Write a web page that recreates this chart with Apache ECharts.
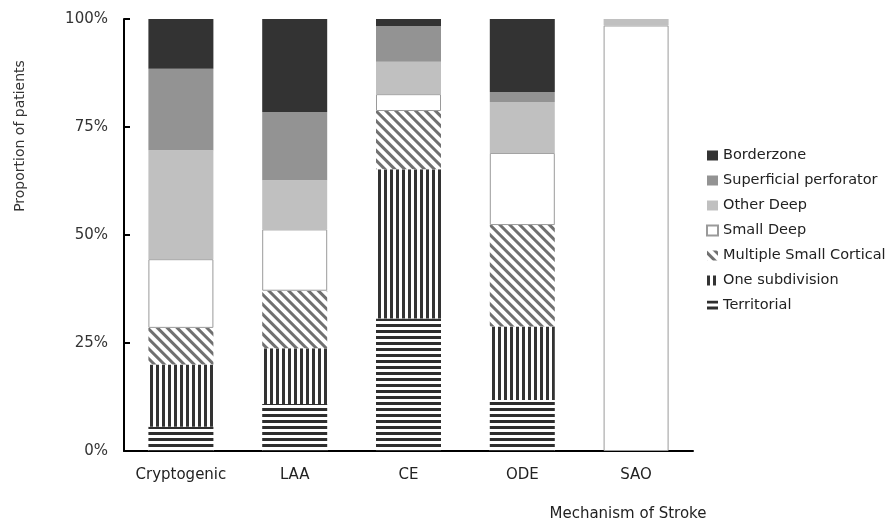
<!DOCTYPE html>
<html>
<head>
<meta charset="utf-8">
<script src="https://cdn.jsdelivr.net/npm/echarts@6/dist/echarts.min.js"></script>
<style>html,body{margin:0;padding:0;background:#fff;}#c{width:890px;height:528px;}</style>
</head>
<body>
<div id="c"></div>
<script>
var categories = ['Cryptogenic', 'LAA', 'CE', 'ODE', 'SAO'];
var territorial = [5.6, 10.9, 30.7, 11.8, 0];
var oneSubdivision = [14.4, 12.9, 34.5, 17.0, 0];
var multipleSmallCortical = [8.5, 13.3, 13.5, 23.5, 0];
var smallDeep = [15.9, 14.2, 3.9, 16.7, 98.5];
var otherDeep = [25.2, 11.4, 7.5, 11.8, 1.5];
var superficialPerforator = [18.9, 15.8, 8.3, 2.3, 0];
var borderzone = [11.5, 21.5, 1.6, 16.9, 0];
var yTicks = [0, 25, 50, 75, 100];

var FONT = 'DejaVu Sans';
var chart = echarts.init(document.getElementById('c'));

function bar(name, data, itemStyle) {
  return {
    name: name, type: 'bar', stack: 'total', data: data,
    barWidth: 65, itemStyle: itemStyle, emphasis: {disabled: true}
  };
}

var series = [
  bar('Territorial', territorial, {
    color: '#ffffff',
    decal: {symbol: 'rect', symbolSize: 1, color: '#2e2e2e', dashArrayX: [1, 0], dashArrayY: [2.5, 2.3]}
  }),
  bar('One subdivision', oneSubdivision, {
    color: '#ffffff',
    decal: {symbol: 'rect', symbolSize: 1, color: '#333333', dashArrayX: [2.2, 2.4], dashArrayY: [1, 0]}
  }),
  bar('Multiple Small Cortical', multipleSmallCortical, {
    color: '#ffffff',
    decal: {symbol: 'rect', symbolSize: 1, color: '#707070', dashArrayX: [1, 0], dashArrayY: [2.4, 3.2], rotation: Math.PI / 4}
  }),
  bar('Small Deep', smallDeep, {color: '#ffffff', borderColor: '#9a9a9a', borderWidth: 1}),
  bar('Other Deep', otherDeep, {color: '#c0c0c0'}),
  bar('Superficial perforator', superficialPerforator, {color: '#939393'}),
  bar('Borderzone', borderzone, {color: '#333333'})
];

chart.setOption({
  animation: false,
  backgroundColor: '#ffffff',
  aria: {enabled: false},
  grid: {left: 124, top: 19, width: 569, height: 432, containLabel: false},
  legend: {
    orient: 'vertical', left: 706, top: 148, padding: 0,
    icon: 'rect',
    itemWidth: 11, itemHeight: 10, itemGap: 10,
    selectedMode: false,
    data: ['Borderzone', 'Superficial perforator', 'Other Deep', 'Small Deep', 'Multiple Small Cortical', 'One subdivision', 'Territorial'],
    textStyle: {fontFamily: FONT, fontSize: 14.5, color: '#222', lineHeight: 14}
  },
  xAxis: {
    type: 'category', data: categories,
    axisLine: {lineStyle: {color: '#000', width: 2}},
    axisTick: {show: false},
    axisLabel: {fontFamily: FONT, fontSize: 15, color: '#222', margin: 17, interval: 0}
  },
  yAxis: {
    type: 'value', min: 0, max: 100, interval: 25,
    axisLine: {show: true, lineStyle: {color: '#000', width: 2}},
    axisTick: {show: true, inside: true, length: 6, lineStyle: {color: '#000', width: 2}},
    splitLine: {show: false},
    axisLabel: {fontFamily: FONT, fontSize: 15, color: '#333', margin: 16, formatter: '{value}%'}
  },
  graphic: [
    {type: 'text', x: 20, y: 136, rotation: Math.PI / 2,
     style: {text: 'Proportion of patients', fontFamily: FONT, fontSize: 14, fill: '#333', textAlign: 'center', textVerticalAlign: 'middle'}},
    {type: 'text', x: 628, y: 514,
     style: {text: 'Mechanism of Stroke', fontFamily: FONT, fontSize: 15, fill: '#222', textAlign: 'center', textVerticalAlign: 'middle'}}
  ],
  series: series
});
</script>
</body>
</html>
